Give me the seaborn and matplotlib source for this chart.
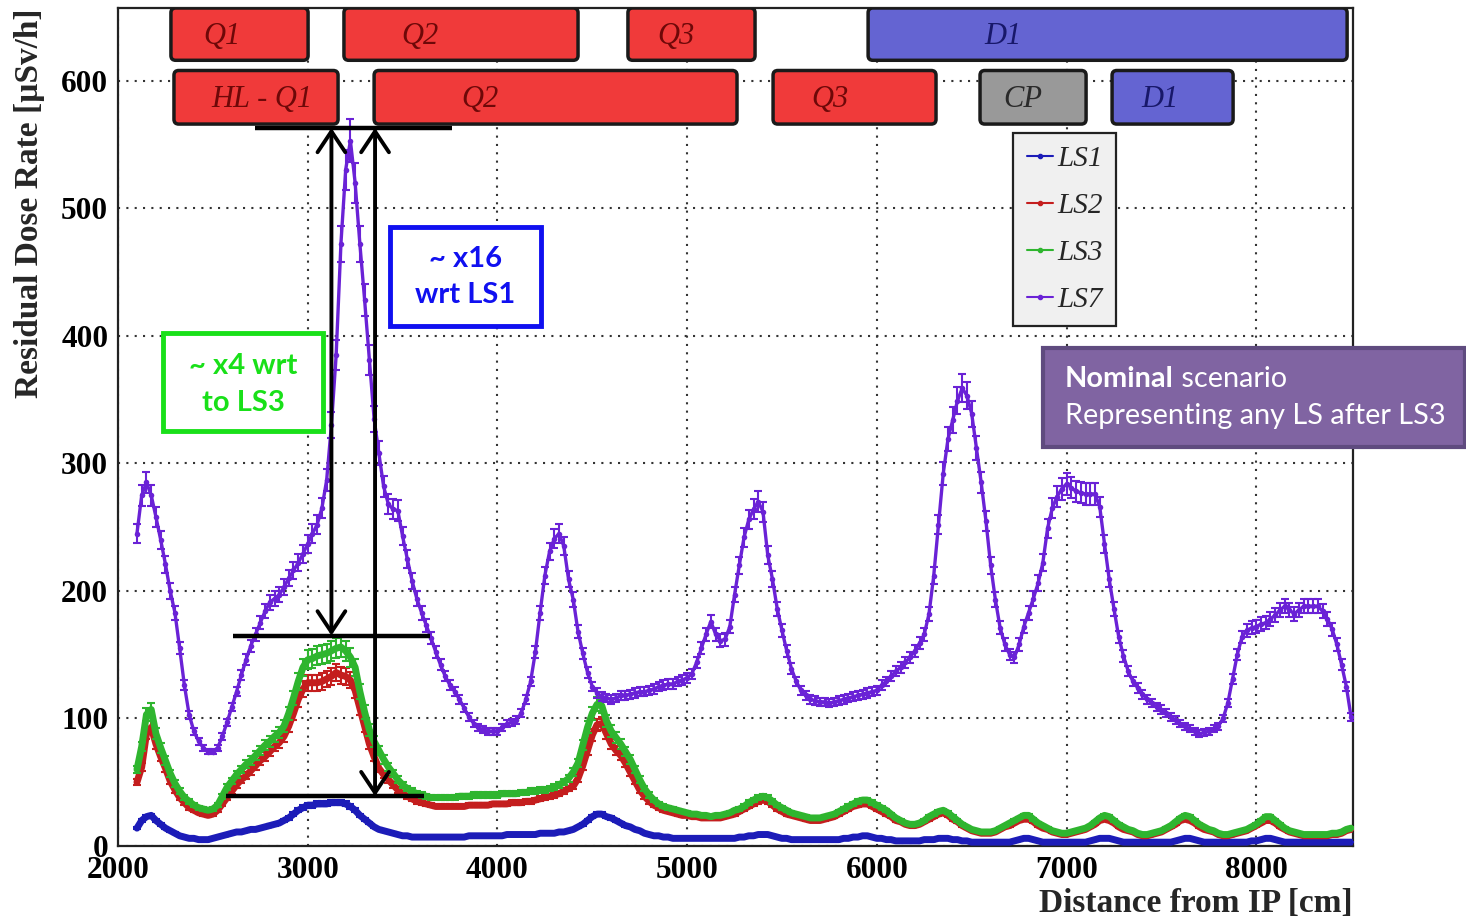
import numpy as np
import pandas as pd
import matplotlib
matplotlib.use('Agg')
import matplotlib.pyplot as plt
from matplotlib.patches import Rectangle, FancyBboxPatch
from matplotlib.lines import Line2D
from matplotlib.ticker import MultipleLocator
import seaborn as sns

# distance from IP [cm], one reading every 25 cm
DIST = np.arange(2100, 8501, 25)

# residual dose rate [uSv/h], rows of 250 cm
LS1 = [14, 20, 23, 24, 20, 17, 14, 12, 10, 8,
       7, 6, 6, 5, 5, 5, 6, 7, 8, 9,
       10, 11, 11, 12, 13, 13, 14, 15, 16, 17,
       18, 20, 22, 25, 28, 30, 32, 32, 33, 33,
       33, 34, 34, 34, 33, 31, 28, 24, 21, 18,
       15, 13, 12, 11, 10, 9, 8, 8, 7, 7,
       7, 7, 7, 7, 7, 7, 7, 7, 7, 7,
       8, 8, 8, 8, 8, 8, 8, 8, 9, 9,
       9, 9, 9, 9, 9, 10, 10, 10, 10, 11,
       11, 12, 13, 15, 17, 20, 23, 25, 25, 23,
       22, 20, 18, 16, 15, 13, 12, 10, 9, 8,
       8, 7, 7, 6, 6, 6, 6, 6, 6, 6,
       6, 6, 6, 6, 6, 6, 6, 7, 7, 8,
       8, 9, 9, 9, 8, 7, 6, 6, 5, 5,
       5, 5, 5, 5, 5, 5, 5, 5, 5, 6,
       6, 7, 7, 8, 8, 7, 6, 6, 5, 5,
       4, 4, 4, 4, 4, 4, 5, 5, 5, 6,
       6, 6, 5, 5, 4, 4, 3, 3, 3, 3,
       3, 3, 3, 3, 3, 4, 5, 6, 6, 5,
       4, 3, 3, 3, 3, 3, 3, 3, 3, 3,
       3, 4, 5, 6, 6, 6, 5, 4, 3, 3,
       3, 3, 3, 3, 3, 3, 3, 3, 3, 4,
       5, 6, 6, 5, 4, 3, 3, 3, 3, 3,
       3, 3, 3, 3, 3, 4, 4, 5, 6, 6,
       5, 4, 3, 3, 3, 3, 3, 3, 3, 3,
       3, 3, 3, 3, 3, 3, 3]

LS2 = [50, 62, 88, 93, 80, 70, 61, 51, 44, 38,
       34, 30, 28, 26, 25, 24, 25, 28, 33, 38,
       43, 48, 52, 55, 59, 63, 67, 70, 74, 78,
       81, 86, 94, 104, 115, 123, 128, 128, 128, 129,
       131, 133, 136, 134, 133, 130, 122, 108, 94, 80,
       70, 61, 56, 52, 48, 44, 41, 39, 37, 35,
       34, 33, 32, 31, 31, 31, 31, 31, 31, 31,
       32, 32, 32, 32, 32, 33, 33, 33, 33, 34,
       34, 34, 35, 35, 36, 37, 38, 39, 40, 41,
       43, 45, 47, 53, 63, 75, 87, 95, 96, 88,
       80, 75, 71, 65, 58, 51, 44, 39, 35, 32,
       30, 28, 27, 26, 25, 24, 24, 23, 23, 22,
       22, 22, 22, 22, 23, 24, 25, 27, 29, 31,
       33, 35, 36, 35, 32, 29, 27, 25, 24, 23,
       22, 21, 20, 20, 20, 21, 22, 23, 25, 27,
       29, 31, 32, 33, 33, 31, 29, 27, 25, 23,
       20, 19, 17, 16, 16, 17, 19, 21, 23, 25,
       26, 24, 21, 19, 16, 14, 12, 11, 10, 10,
       10, 11, 13, 15, 16, 18, 20, 21, 21, 19,
       16, 14, 13, 11, 10, 9, 9, 10, 11, 12,
       13, 15, 17, 20, 21, 20, 18, 15, 13, 12,
       11, 9, 8, 8, 9, 10, 11, 13, 15, 17,
       20, 21, 20, 18, 15, 13, 12, 11, 9, 8,
       8, 9, 10, 11, 12, 14, 16, 18, 20, 20,
       18, 15, 13, 11, 10, 9, 8, 8, 8, 8,
       8, 8, 9, 9, 10, 12, 13]

LS3 = [60, 78, 103, 107, 88, 77, 67, 57, 49, 43,
       38, 35, 32, 30, 29, 28, 29, 32, 39, 46,
       51, 56, 60, 64, 67, 71, 75, 79, 82, 86,
       89, 94, 104, 116, 129, 140, 146, 147, 149, 150,
       151, 153, 155, 156, 153, 148, 140, 121, 105, 91,
       82, 75, 68, 62, 57, 52, 48, 45, 43, 41,
       40, 39, 38, 38, 38, 38, 38, 38, 39, 39,
       39, 40, 40, 40, 40, 40, 40, 41, 41, 41,
       41, 42, 42, 43, 43, 44, 44, 45, 46, 48,
       50, 53, 58, 65, 79, 93, 104, 111, 110, 98,
       90, 85, 80, 74, 68, 60, 52, 45, 40, 36,
       33, 31, 30, 29, 28, 27, 26, 25, 25, 24,
       24, 23, 24, 24, 25, 26, 28, 29, 31, 34,
       36, 38, 39, 38, 35, 32, 30, 28, 26, 25,
       24, 23, 22, 22, 22, 23, 24, 25, 27, 29,
       31, 33, 35, 36, 36, 34, 32, 30, 28, 25,
       22, 20, 18, 17, 17, 18, 20, 23, 25, 27,
       28, 26, 23, 20, 17, 15, 13, 12, 11, 11,
       11, 12, 14, 16, 18, 20, 22, 24, 24, 21,
       18, 16, 14, 12, 11, 10, 10, 11, 12, 13,
       14, 16, 19, 22, 24, 23, 20, 17, 15, 13,
       12, 10, 9, 9, 10, 11, 12, 14, 16, 19,
       22, 24, 23, 20, 17, 15, 13, 12, 10, 9,
       9, 10, 11, 12, 13, 15, 17, 20, 23, 23,
       20, 17, 14, 12, 11, 10, 9, 9, 9, 9,
       9, 9, 10, 10, 11, 13, 14]

LS7 = [245, 275, 285, 275, 258, 240, 221, 200, 183, 155,
       126, 103, 90, 82, 77, 74, 74, 77, 86, 97,
       109, 121, 134, 146, 157, 166, 175, 184, 191, 194,
       197, 203, 210, 216, 222, 229, 237, 245, 252, 265,
       287, 330, 385, 472, 530, 553, 520, 472, 428, 381,
       335, 308, 282, 268, 264, 263, 243, 225, 208, 194,
       183, 173, 163, 152, 142, 133, 126, 121, 115, 108,
       101, 96, 93, 91, 90, 90, 90, 93, 96, 97,
       99, 104, 115, 129, 152, 183, 212, 231, 241, 245,
       235, 209, 193, 168, 151, 136, 125, 120, 117, 116,
       115, 116, 118, 118, 119, 120, 121, 121, 122, 123,
       125, 126, 127, 127, 129, 130, 132, 135, 144, 155,
       166, 176, 166, 161, 162, 172, 197, 220, 242, 256,
       264, 270, 262, 228, 209, 186, 169, 153, 139, 129,
       122, 118, 115, 114, 113, 113, 112, 113, 114, 115,
       116, 117, 118, 119, 120, 121, 122, 126, 129, 133,
       137, 140, 144, 148, 153, 159, 166, 182, 212, 252,
       292, 319, 334, 349, 359, 353, 339, 312, 285, 255,
       220, 193, 171, 158, 150, 148, 158, 172, 183, 194,
       206, 222, 249, 265, 274, 280, 284, 281, 278, 277,
       276, 276, 276, 266, 237, 209, 186, 164, 149, 137,
       129, 124, 119, 115, 112, 109, 107, 104, 101, 99,
       96, 94, 92, 90, 88, 89, 90, 92, 94, 100,
       112, 131, 150, 164, 169, 171, 172, 174, 175, 178,
       181, 185, 188, 185, 182, 185, 188, 188, 188, 188,
       184, 178, 170, 158, 142, 125, 101]

RUNS = ['LS1', 'LS2', 'LS3', 'LS7']
REL_ERR = {'LS1': 0.06, 'LS2': 0.05, 'LS3': 0.05, 'LS7': 0.03}
COLORS = {'LS1': '#1c1cb8', 'LS2': '#c41e1e', 'LS3': '#2fb52f', 'LS7': '#6a22d6'}

# magnet layout along the beam line (name, start, end, label position, kind)
MAGNETS_TOP = [('Q1', 2279, 3002, 2548, 'quad'), ('Q2', 3191, 4425, 3592, 'quad'),
               ('Q3', 4688, 5358, 4941, 'quad'), ('D1', 5954, 8479, 6665, 'dipole')]
MAGNETS_HL = [('HL - Q1', 2295, 3160, 2759, 'quad'), ('Q2', 3350, 5263, 3908, 'quad'),
              ('Q3', 5453, 6312, 5753, 'quad'), ('CP', 6544, 7103, 6771, 'cp'),
              ('D1', 7240, 7878, 7493, 'dipole')]
BOX_FILL = {'quad': '#f03a3a', 'dipole': '#6464d2', 'cp': '#999999'}
BOX_TEXT = {'quad': '#6e0808', 'dipole': '#18186a', 'cp': '#2a2a2a'}

sns.set_theme(style='white')
plt.rcParams['font.family'] = ['Liberation Serif', 'DejaVu Serif']
plt.rcParams['font.weight'] = 'bold'

df = pd.concat([pd.DataFrame({'dist': DIST, 'dose': vals, 'run': run})
                for run, vals in zip(RUNS, [LS1, LS2, LS3, LS7])], ignore_index=True)

fig = plt.figure(figsize=(14.66, 9.21), dpi=100)
ax = fig.add_axes([118 / 1466, 1 - 846 / 921, 1235 / 1466, 838 / 921])

for run in RUNS:
    sub = df[df.run == run]
    ax.errorbar(sub.dist, sub.dose, yerr=sub.dose * REL_ERR[run], fmt='none',
                ecolor=COLORS[run], elinewidth=1.5, capsize=2.8, capthick=1.5, zorder=3)
    sns.lineplot(data=sub, x='dist', y='dose', color=COLORS[run], ax=ax,
                 lw=2.4 if run == 'LS7' else 5, marker='o',
                 markersize=4 if run == 'LS7' else 3,
                 markeredgewidth=0, legend=False, zorder=3)

ax.set_xlim(2000, 8510)
ax.set_ylim(0, 657)
ax.xaxis.set_major_locator(MultipleLocator(1000))
ax.xaxis.set_minor_locator(MultipleLocator(200))
ax.yaxis.set_major_locator(MultipleLocator(100))
ax.yaxis.set_minor_locator(MultipleLocator(20))
ax.tick_params(axis='both', which='both', direction='in', colors='#222222',
               width=1.6, labelsize=22.5, labelcolor='black')
ax.tick_params(axis='y', which='major', length=26, pad=7)
ax.tick_params(axis='y', which='minor', length=14)
ax.tick_params(axis='x', which='major', length=13, pad=7)
ax.tick_params(axis='x', which='minor', length=7)
ax.grid(True, which='major', color='#333333', lw=1.5, ls=(0, (1, 3)))
ax.set_axisbelow(True)
for sp in ax.spines.values():
    sp.set_color('#222222')
    sp.set_linewidth(1.6)

ax.set_xlabel('Distance from IP [cm]', fontsize=24, fontweight='bold', loc='right')
ax.xaxis.set_label_coords(1.0, -0.05)
ax.set_ylabel('Residual Dose Rate [\u00b5Sv/h]', fontsize=24, fontweight='bold', loc='top')
ax.yaxis.set_label_coords(-0.059, 1.0)

# magnet boxes
for row, (y0, h) in zip([MAGNETS_TOP, MAGNETS_HL], [(616, 41), (566, 42)]):
    for name, x0, x1, xl, kind in row:
        ax.add_patch(FancyBboxPatch((x0, y0), x1 - x0, h,
                                    boxstyle='round,pad=0,rounding_size=25',
                                    mutation_aspect=0.149, facecolor=BOX_FILL[kind],
                                    edgecolor='#1a1a1a', lw=2.5, zorder=6))
        ax.text(xl, y0 + h / 2 - 2, name, ha='center', va='center',
                fontsize=22, style='italic', fontweight='normal',
                color=BOX_TEXT[kind], zorder=7)

# legend
handles = [Line2D([], [], color=COLORS[r], lw=1.5, marker='o', ms=3) for r in RUNS]
leg = ax.legend(handles, RUNS, loc='upper left', bbox_to_anchor=(0.725, 0.851),
                prop={'family': 'Liberation Serif', 'style': 'italic', 'weight': 'normal',
                      'size': 21},
                handlelength=0.9, handletextpad=0.15, labelspacing=0.7,
                borderpad=0.45, borderaxespad=0, fancybox=False, framealpha=1,
                facecolor='#f0f0f0', edgecolor='#222222')
leg.get_frame().set_linewidth(1.6)
leg.set_zorder(8)

# ratio annotations
ax.plot([2722, 3761], [563, 563], color='black', lw=3.2, zorder=9, solid_capstyle='butt')
ax.plot([2605, 3647], [165, 165], color='black', lw=3.2, zorder=9, solid_capstyle='butt')
ax.plot([2569, 3612], [39, 39], color='black', lw=3.2, zorder=9, solid_capstyle='butt')
arrow = dict(arrowstyle='<->,head_length=0.75,head_width=0.5', lw=2.8, color='black',
             mutation_scale=20, shrinkA=0, shrinkB=0)
ax.annotate('', xy=(3125, 165), xytext=(3125, 563), arrowprops=arrow, zorder=9)
ax.annotate('', xy=(3355, 39), xytext=(3355, 563), arrowprops=arrow, zorder=9)

ax.add_patch(Rectangle((2237, 325), 844, 77, facecolor='white', edgecolor='#19e019',
                       lw=3.5, zorder=9))
ax.text(2659, 362, '~ x4 wrt\nto LS3', ha='center', va='center', color='#19e019',
        family='Lato', fontweight='bold', fontsize=21, linespacing=1.5, zorder=10)
ax.add_patch(Rectangle((3434, 408), 796, 77, facecolor='white', edgecolor='#1010f0',
                       lw=3.5, zorder=9))
ax.text(3830, 446, '~ x16\nwrt LS1', ha='center', va='center', color='#1010f0',
        family='Lato', fontweight='bold', fontsize=21, linespacing=1.45, zorder=10)

# scenario note, partly outside the frame
ax.add_patch(Rectangle((1043 / 1466, 1 - 447 / 921), 422 / 1466, 99 / 921,
                       transform=fig.transFigure, clip_on=False, facecolor='#8064a2',
                       edgecolor='#5f4b7f', lw=3, zorder=11))
t_nom = ax.text(1065 / 1466, 1 - 379 / 921, 'Nominal', transform=fig.transFigure,
                ha='left', va='center', color='white', family='Lato',
                fontweight='bold', fontsize=20.8, zorder=12)
ax.annotate(' scenario', xy=(1, 0), xycoords=t_nom, ha='left', va='bottom',
            color='white', family='Lato', fontweight='normal', fontsize=20.8, zorder=12)
ax.text(1065 / 1466, 1 - 416 / 921, 'Representing any LS after LS3',
        transform=fig.transFigure, ha='left', va='center', color='white',
        family='Lato', fontweight='normal', fontsize=20.8, zorder=12)

fig.savefig('out.png', dpi=100)
